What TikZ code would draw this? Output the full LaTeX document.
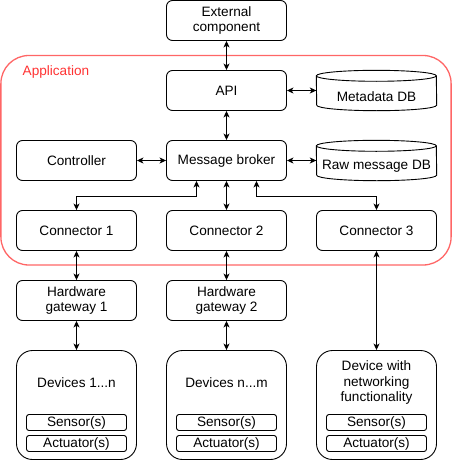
\documentclass[tikz,border=0pt]{standalone}
\usepackage{fontspec}
\setmainfont{Liberation Sans}
\usetikzlibrary{arrows.meta,positioning}
\definecolor{appline}{HTML}{FF6666}
\definecolor{apptext}{HTML}{FF3333}
\tikzset{
  box/.style={draw, line width=0.9pt, rounded corners=6pt, minimum width=120pt, minimum height=40pt, inner sep=0pt, align=center, font=\fontsize{13.6}{15.5}\selectfont},
  devbox/.style={draw, line width=0.9pt, rounded corners=16pt, minimum width=120pt, minimum height=109pt, inner sep=0pt},
  partbox/.style={draw, line width=0.9pt, rounded corners=2.5pt, minimum width=100pt, minimum height=16pt, inner sep=0pt, font=\fontsize{13.6}{15}\selectfont},
  dbframe/.style={minimum width=120pt, minimum height=40pt, inner sep=0pt},
  txt/.style={inner sep=0pt, align=center, font=\fontsize{13.6}{15.5}\selectfont},
  conn/.style={draw, line width=0.9pt, {Stealth[length=6.5pt,width=6pt,inset=1.8pt]}-{Stealth[length=6.5pt,width=6pt,inset=1.8pt]}},
}
\begin{document}
\begin{tikzpicture}[x=1pt,y=-1pt]
\useasboundingbox (0,0) rectangle (452,460);
% application frame
\draw[appline, line width=1.3pt, rounded corners=28pt] (0.9,55.5) rectangle (451.1,265);
\node[txt, anchor=west, text=apptext] (applbl) at (22.5,71.5) {Application};
% top
\node[box] (ext) at (226.5,20.5) {External\\component};
\node[box] (api) at (226.5,90.5) {API};
\node[box] (broker) at (226.5,160.5) {Message broker};
\node[box] (ctrl) at (76.5,160.5) {Controller};
% databases
\node[dbframe] (meta) at (376.5,90.5) {};
\node[dbframe] (raw) at (376.5,160.5) {};
\foreach \db in {meta,raw}{
  \draw[line width=0.9pt] ([yshift=-5.5pt]\db.north west) arc[start angle=180,end angle=0,x radius=60pt,y radius=5.5pt]
     -- ([yshift=5.5pt]\db.south east) arc[start angle=0,end angle=-180,x radius=60pt,y radius=5.5pt] -- cycle;
  \draw[line width=0.9pt] ([yshift=-5.5pt]\db.north west) arc[start angle=180,end angle=360,x radius=60pt,y radius=5.5pt];
}
\node[txt] (metat) at (376.5,96.5) {Metadata DB};
\node[txt] (rawt) at (376.5,166.5) {Raw message DB};
% connectors
\node[box] (c1) at (76.5,230.5) {Connector 1};
\node[box] (c2) at (226.5,230.5) {Connector 2};
\node[box] (c3) at (376.5,230.5) {Connector 3};
% gateways
\node[box] (hw1) at (76.5,300.5) {Hardware\\gateway 1};
\node[box] (hw2) at (226.5,300.5) {Hardware\\gateway 2};
% devices
\node[devbox] (d1) at (76.5,405) {};
\node[devbox] (d2) at (226.5,405) {};
\node[devbox] (d3) at (376.5,405) {};
\node[txt] (d1t) at (76.5,383) {Devices 1...n};
\node[txt] (d2t) at (226.5,383) {Devices n...m};
\node[txt] (d3t) at (376.5,382.5) {Device with\\networking\\functionality};
\node[partbox] (s1) at (76.5,422.5) {Sensor(s)};
\node[partbox] (a1) at (76.5,443.5) {Actuator(s)};
\node[partbox] (s2) at (226.5,422.5) {Sensor(s)};
\node[partbox] (a2) at (226.5,443.5) {Actuator(s)};
\node[partbox] (s3) at (376.5,422.5) {Sensor(s)};
\node[partbox] (a3) at (376.5,443.5) {Actuator(s)};
% connections
\draw[conn] (ext) -- (api);
\draw[conn] (api) -- (meta.west);
\draw[conn] (api) -- (broker);
\draw[conn] (ctrl) -- (broker);
\draw[conn] (broker) -- (raw.west);
\coordinate (j1) at (196.5,196);
\coordinate (j3) at (256.5,196);
\draw[conn] ([xshift=-30pt]broker.south) -- (j1) -| (c1.north);
\draw[conn] (broker) -- (c2);
\draw[conn] ([xshift=30pt]broker.south) -- (j3) -| (c3.north);
\draw[conn] (c1) -- (hw1);
\draw[conn] (c2) -- (hw2);
\draw[conn] (c3) -- (d3);
\draw[conn] (hw1) -- (d1);
\draw[conn] (hw2) -- (d2);
\end{tikzpicture}
\end{document}
